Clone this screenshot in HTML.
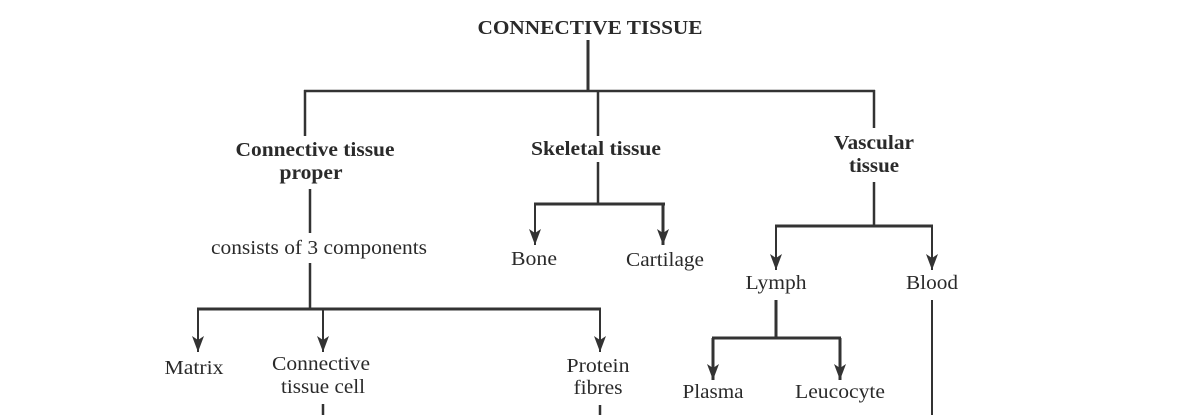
<!DOCTYPE html>
<html><head><meta charset="utf-8"><style>
html,body{margin:0;padding:0;background:#fff}
svg{display:block}
text{font-family:"Liberation Serif",serif;fill:#2a2a2a;font-size:20px;text-anchor:middle}
.b{font-weight:bold;font-size:20px}
</style></head><body>
<svg width="1200" height="415" viewBox="0 0 1200 415">
<defs>
<marker id="v" markerWidth="12" markerHeight="16" refX="6" refY="16" orient="0" markerUnits="userSpaceOnUse"><path d="M0,0 L6,16 L12,0 L6,4 Z" fill="#333"/></marker></defs>
<g stroke="#333" fill="none">
<line x1="588" y1="40" x2="588" y2="91" stroke-width="3"/>
<line x1="304" y1="91" x2="875" y2="91" stroke-width="2.5"/>
<line x1="305" y1="90" x2="305" y2="136" stroke-width="2.5"/>
<line x1="598" y1="90" x2="598" y2="136" stroke-width="2.5"/>
<line x1="874" y1="90" x2="874" y2="128" stroke-width="2.5"/>
<line x1="310" y1="189" x2="310" y2="233" stroke-width="2.5"/>
<line x1="310" y1="263" x2="310" y2="308" stroke-width="2.5"/>
<line x1="197" y1="309" x2="601" y2="309" stroke-width="3"/>
<line x1="198" y1="309" x2="198" y2="352" stroke-width="2" marker-end="url(#v)"/>
<line x1="323" y1="309" x2="323" y2="352" stroke-width="2" marker-end="url(#v)"/>
<line x1="600" y1="309" x2="600" y2="352" stroke-width="2" marker-end="url(#v)"/>
<line x1="323" y1="404" x2="323" y2="415" stroke-width="2.5"/>
<line x1="600" y1="405" x2="600" y2="415" stroke-width="2.5"/>
<line x1="598" y1="162" x2="598" y2="204" stroke-width="2.5"/>
<line x1="534" y1="204" x2="665" y2="204" stroke-width="3"/>
<line x1="535" y1="204" x2="535" y2="245" stroke-width="2" marker-end="url(#v)"/>
<line x1="663" y1="204" x2="663" y2="245" stroke-width="3" marker-end="url(#v)"/>
<line x1="874" y1="182" x2="874" y2="226" stroke-width="2.5"/>
<line x1="775" y1="226" x2="933" y2="226" stroke-width="3"/>
<line x1="776" y1="226" x2="776" y2="270" stroke-width="2" marker-end="url(#v)"/>
<line x1="932" y1="226" x2="932" y2="270" stroke-width="2" marker-end="url(#v)"/>
<line x1="776" y1="300" x2="776" y2="338" stroke-width="3"/>
<line x1="712" y1="338" x2="841" y2="338" stroke-width="3"/>
<line x1="713" y1="338" x2="713" y2="380" stroke-width="3" marker-end="url(#v)"/>
<line x1="840" y1="338" x2="840" y2="380" stroke-width="3" marker-end="url(#v)"/>
<line x1="932" y1="300" x2="932" y2="415" stroke-width="2"/>
</g>
<text x="590" y="34" class="b" textLength="225" lengthAdjust="spacingAndGlyphs">CONNECTIVE TISSUE</text>
<text x="315" y="156" class="b" textLength="159" lengthAdjust="spacingAndGlyphs">Connective tissue</text>
<text x="311" y="179" class="b" textLength="63" lengthAdjust="spacingAndGlyphs">proper</text>
<text x="596" y="155" class="b" textLength="130" lengthAdjust="spacingAndGlyphs">Skeletal tissue</text>
<text x="874" y="149" class="b" textLength="80" lengthAdjust="spacingAndGlyphs">Vascular</text>
<text x="874" y="172" class="b" textLength="50" lengthAdjust="spacingAndGlyphs">tissue</text>
<text x="319" y="254" textLength="216" lengthAdjust="spacingAndGlyphs">consists of 3 components</text>
<text x="534" y="265" textLength="46" lengthAdjust="spacingAndGlyphs">Bone</text>
<text x="665" y="266" textLength="78" lengthAdjust="spacingAndGlyphs">Cartilage</text>
<text x="776" y="289" textLength="61" lengthAdjust="spacingAndGlyphs">Lymph</text>
<text x="932" y="289" textLength="52" lengthAdjust="spacingAndGlyphs">Blood</text>
<text x="194" y="374" textLength="59" lengthAdjust="spacingAndGlyphs">Matrix</text>
<text x="321" y="370" textLength="98" lengthAdjust="spacingAndGlyphs">Connective</text>
<text x="323" y="393" textLength="84" lengthAdjust="spacingAndGlyphs">tissue cell</text>
<text x="598" y="372" textLength="63" lengthAdjust="spacingAndGlyphs">Protein</text>
<text x="598" y="394" textLength="49" lengthAdjust="spacingAndGlyphs">fibres</text>
<text x="713" y="398" textLength="61" lengthAdjust="spacingAndGlyphs">Plasma</text>
<text x="840" y="398" textLength="90" lengthAdjust="spacingAndGlyphs">Leucocyte</text>
</svg>
</body></html>
